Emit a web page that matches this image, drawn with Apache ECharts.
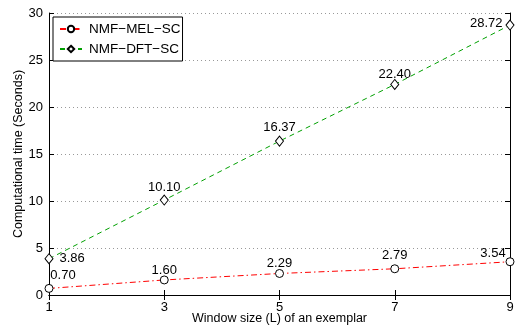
<!DOCTYPE html>
<html><head><meta charset="utf-8">
<script src="https://cdn.jsdelivr.net/npm/echarts@6/dist/echarts.min.js"></script>
<style>html,body{margin:0;padding:0;background:#fff}#c{width:516px;height:326px}</style>
</head><body><div id="c"></div>
<script>
var windowSizes = ['1', '3', '5', '7', '9'];
var melTimes = [0.70, 1.60, 2.29, 2.79, 3.54];
var dftTimes = [3.86, 10.10, 16.37, 22.40, 28.72];
var yTicks = [0, 5, 10, 15, 20, 25, 30];
var seriesNames = ['NMF\u2212MEL\u2212SC', 'NMF\u2212DFT\u2212SC'];

var FONT = 'Liberation Sans';
var chart = echarts.init(document.getElementById('c'), null, {renderer: 'canvas'});

var dftLabelStyles = [
  {position: 'right', distance: 6},
  {position: 'top', distance: 0.5},
  {position: 'top', distance: 1.5},
  {position: 'top', distance: -2},
  {position: 'left', distance: 3, offset: [0, -2]}
];
var melLabelStyles = [
  {position: 'top', distance: 5, offset: [14, 3.5]},
  {position: 'top', distance: -1.5},
  {position: 'top', distance: -0.5},
  {position: 'top', distance: 2},
  {position: 'top', distance: 0, offset: [-17, 2.5]}
];
function mk(vals, styles) {
  return vals.map(function (v, i) {
    return {value: v, label: styles[i]};
  });
}

var axisLineStyle = {color: '#000', width: 1};
chart.setOption({
  animation: false,
  textStyle: {fontFamily: FONT},
  grid: {left: 49, right: 6, top: 13, bottom: 31, containLabel: false, outerBoundsMode: 'none'},
  legend: {
    orient: 'vertical', left: 53, top: 17,
    data: seriesNames,
    itemWidth: 22, itemHeight: 8, itemGap: 6,
    padding: [5, 2, 5, 6],
    borderColor: '#000', borderWidth: 1, backgroundColor: '#fff', borderRadius: 0,
    textStyle: {fontFamily: FONT, fontSize: 13.5, color: '#000', padding: [0, 0, 0, 2]}
  },
  xAxis: [{
    type: 'category', data: windowSizes, boundaryGap: false,
    name: 'Window size (L) of an exemplar', nameLocation: 'middle', nameGap: 17,
    nameMoveOverlap: false,
    nameTextStyle: {fontFamily: FONT, fontSize: 12.5, color: '#000', verticalAlign: 'top'},
    axisLine: {lineStyle: axisLineStyle},
    axisTick: {inside: true, length: 5, lineStyle: axisLineStyle, alignWithLabel: true},
    axisLabel: {fontFamily: FONT, fontSize: 13, color: '#000', margin: 6},
    splitLine: {show: false}
  }, {
    type: 'category', data: windowSizes, boundaryGap: false, position: 'top',
    axisLine: {lineStyle: axisLineStyle},
    axisTick: {inside: true, length: 5, lineStyle: axisLineStyle},
    axisLabel: {show: false}, splitLine: {show: false}
  }],
  yAxis: [{
    type: 'value', min: 0, max: 30, interval: 5,
    name: 'Computational time (Seconds)', nameLocation: 'middle', nameGap: 24,
    nameMoveOverlap: false,
    nameTextStyle: {fontFamily: FONT, fontSize: 12.5, color: '#000', verticalAlign: 'bottom'},
    axisLine: {show: true, lineStyle: axisLineStyle},
    axisTick: {show: true, inside: true, length: 5, lineStyle: axisLineStyle},
    axisLabel: {fontFamily: FONT, fontSize: 13, color: '#000', margin: 6,
      formatter: function (v) { return yTicks.indexOf(v) >= 0 ? String(v) : ''; }},
    splitLine: {show: true, lineStyle: {color: '#999', type: [1, 3], width: 1}}
  }, {
    type: 'value', min: 0, max: 30, interval: 5, position: 'right',
    axisLine: {show: true, lineStyle: axisLineStyle},
    axisTick: {show: true, inside: true, length: 5, lineStyle: axisLineStyle},
    axisLabel: {show: false}, splitLine: {show: false}
  }],
  series: [{
    name: seriesNames[0], type: 'line', data: mk(melTimes, melLabelStyles),
    symbol: 'circle', symbolSize: 8, showAllSymbol: true,
    lineStyle: {color: '#ff0000', width: 1, type: [6, 3, 1.5, 3]},
    itemStyle: {color: '#fff', borderColor: '#000', borderWidth: 1},
    label: {show: true, fontFamily: FONT, fontSize: 13, color: '#000',
      formatter: function (p) { return p.value.toFixed(2); }},
    z: 3
  }, {
    name: seriesNames[1], type: 'line', data: mk(dftTimes, dftLabelStyles),
    symbol: 'diamond', symbolSize: [8, 10], showAllSymbol: true,
    lineStyle: {color: '#00a000', width: 1, type: [5, 4]},
    itemStyle: {color: '#fff', borderColor: '#000', borderWidth: 1},
    label: {show: true, fontFamily: FONT, fontSize: 13, color: '#000',
      formatter: function (p) { return p.value.toFixed(2); }},
    z: 3
  }]
});
</script></body></html>
